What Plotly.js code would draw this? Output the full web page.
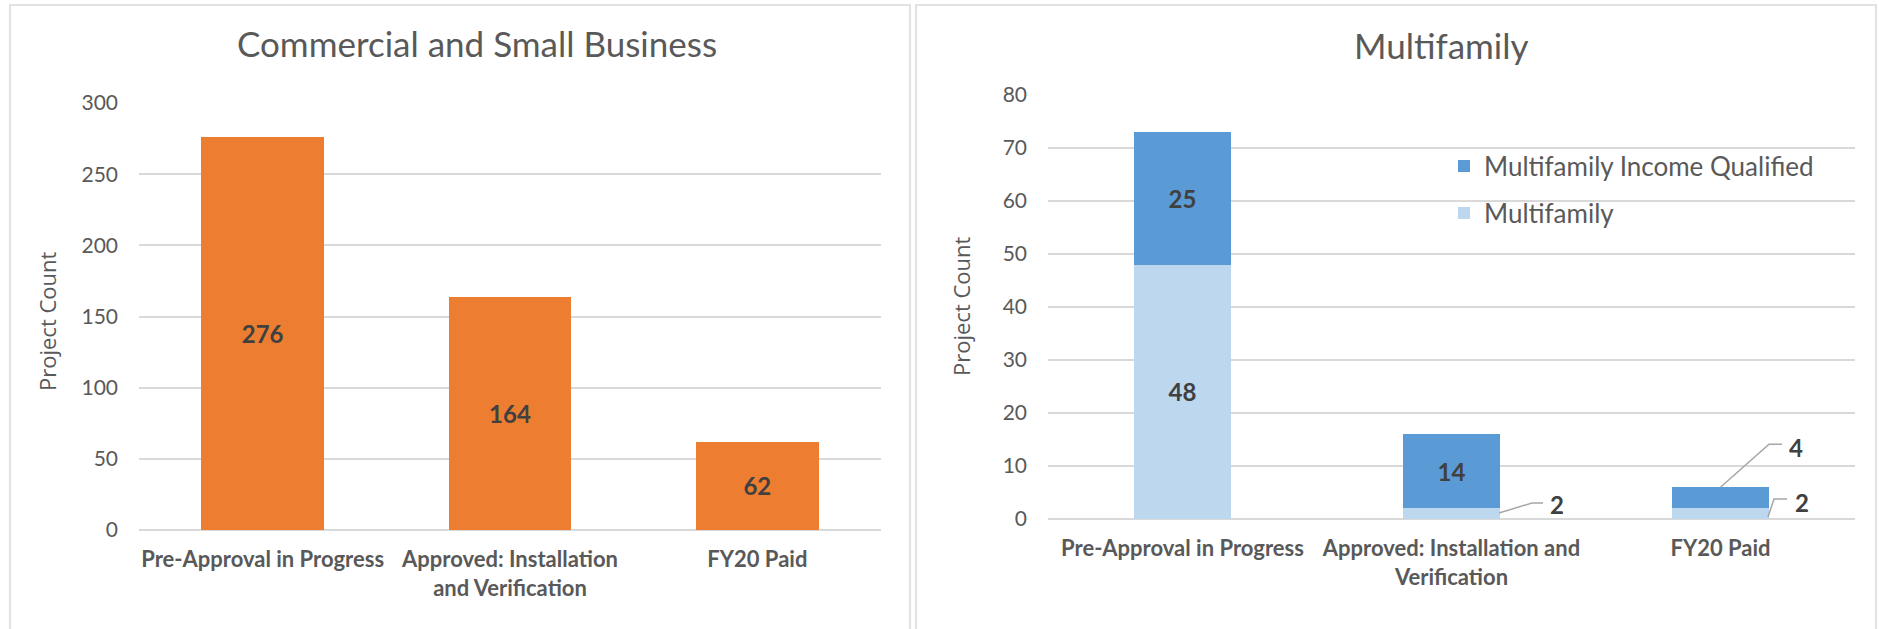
<!DOCTYPE html>
<html><head><meta charset="utf-8">
<script src="https://cdn.plot.ly/plotly-3.0.1.min.js"></script>
<style>html,body{margin:0;padding:0;background:#fff}#chart{width:1879px;height:629px}</style>
</head><body><div id="chart"></div>
<script>
// ---- data ----
const commCategories = ['Pre-Approval in Progress', 'Approved: Installation<br>and Verification', 'FY20 Paid'];
const commValues = [276, 164, 62];
const mfCategories = ['Pre-Approval in Progress', 'Approved: Installation and<br>Verification', 'FY20 Paid'];
const mfBase = [48, 2, 2];                 // Multifamily
const mfIncomeQualified = [25, 14, 4];     // Multifamily Income Qualified
const commTickVals = [0, 50, 100, 150, 200, 250, 300];
const mfTickVals = [0, 10, 20, 30, 40, 50, 60, 70, 80];
const seriesNames = ['Multifamily', 'Multifamily Income Qualified'];
const chartTitles = ['Commercial and Small Business', 'Multifamily'];
const yTitle = 'Project Count';

// ---- helpers ----
const W = 1879, H = 629;
const px = x => x / W;
const py = y => 1 - y / H;
const TXT = '#595959', LBL = '#404040';
const FONT = 'Lato, "Open Sans", sans-serif';
const MIN_INSIDE = 5;
const inside = v => v >= MIN_INSIDE ? String(v) : '';

const traces = [
  {
    type: 'bar', x: commCategories, y: commValues, xaxis: 'x', yaxis: 'y',
    marker: {color: '#ED7D31'}, width: 0.497, showlegend: false,
    text: commValues.map(String), textposition: 'inside', insidetextanchor: 'middle',
    textangle: 0, constraintext: 'none',
    textfont: {family: FONT, size: 24, color: LBL, weight: 700}, hoverinfo: 'x+y'
  },
  {
    type: 'bar', name: seriesNames[0], x: mfCategories, y: mfBase, xaxis: 'x2', yaxis: 'y2',
    marker: {color: '#BDD7EE'}, width: 0.357, legend: 'legend2',
    text: mfBase.map(inside), textposition: 'inside', insidetextanchor: 'middle',
    textangle: 0, constraintext: 'none',
    textfont: {family: FONT, size: 24, color: LBL, weight: 700}
  },
  {
    type: 'bar', name: seriesNames[1], x: mfCategories, y: mfIncomeQualified, xaxis: 'x2', yaxis: 'y2',
    marker: {color: '#5B9BD5'}, width: 0.357, legend: 'legend',
    text: mfIncomeQualified.map(inside), textposition: 'inside', insidetextanchor: 'middle',
    textangle: 0, constraintext: 'none',
    textfont: {family: FONT, size: 24, color: LBL, weight: 700}
  }
];

// callouts for small segments (pixel offsets from the segment anchor)
const callouts = [
  {cat: 1, base: 0, val: mfBase[1], where: 'mid', dx: 105.5, dy: 8.7, path: 'M 47.5 0.7 L 80.5 10.7 L 91.5 10.7'},
  {cat: 2, base: mfBase[2], val: mfIncomeQualified[2], where: 'top', dx: 75.5, dy: 40, path: 'M 0 0 L 48.5 43 L 61.5 43'},
  {cat: 2, base: 0, val: mfBase[2], where: 'mid', dx: 81.5, dy: 10.7, path: 'M 47.5 -3.3 L 53.5 14.7 L 66.5 14.7'}
];

const annotations = [
  {text: chartTitles[0], xref: 'paper', yref: 'paper', x: px(477), y: py(43), showarrow: false,
   xanchor: 'center', yanchor: 'middle', font: {family: FONT, size: 35, color: TXT}},
  {text: chartTitles[1], xref: 'paper', yref: 'paper', x: px(1441), y: py(45), showarrow: false,
   xanchor: 'center', yanchor: 'middle', font: {family: FONT, size: 35, color: TXT}},
  {text: yTitle, xref: 'paper', yref: 'paper', x: px(47), y: py(321), showarrow: false, textangle: -90,
   xanchor: 'center', yanchor: 'middle', font: {family: '"Open Sans", sans-serif', size: 22, color: TXT}},
  {text: yTitle, xref: 'paper', yref: 'paper', x: px(961), y: py(306), showarrow: false, textangle: -90,
   xanchor: 'center', yanchor: 'middle', font: {family: '"Open Sans", sans-serif', size: 22, color: TXT}}
];
const shapes = [
  {type: 'rect', xref: 'paper', yref: 'paper', x0: px(10), x1: px(910), y0: -0.2, y1: py(5),
   line: {color: '#d9d9d9', width: 1.5}, layer: 'below'},
  {type: 'rect', xref: 'paper', yref: 'paper', x0: px(916), x1: px(1876), y0: -0.2, y1: py(5),
   line: {color: '#d9d9d9', width: 1.5}, layer: 'below'}
];
callouts.forEach(c => {
  const yAnchor = c.where === 'mid' ? c.base + c.val / 2 : c.base + c.val;
  annotations.push({text: String(c.val), xref: 'x2', yref: 'y2', x: c.cat, y: yAnchor,
    xshift: c.dx, yshift: c.dy, showarrow: false, xanchor: 'center', yanchor: 'middle',
    font: {family: FONT, size: 24, color: LBL, weight: 700}});
  shapes.push({type: 'path', xref: 'x2', yref: 'y2', xsizemode: 'pixel', ysizemode: 'pixel',
    xanchor: c.cat, yanchor: yAnchor, path: c.path, line: {color: '#a6a6a6', width: 1.5}});
});

const xCommon = {type: 'category', tickangle: 0, showgrid: false, showline: false, zeroline: false,
  ticks: '', ticklabelstandoff: 14, fixedrange: true,
  tickfont: {family: FONT, size: 22, color: TXT, weight: 700}};
const yCommon = {showgrid: true, gridcolor: '#d9d9d9', gridwidth: 2, zeroline: true,
  zerolinecolor: '#d9d9d9', zerolinewidth: 2, showline: false, ticks: '', fixedrange: true,
  ticklabelstandoff: 20, tickfont: {family: FONT, size: 21, color: TXT}};

const legendCommon = {xref: 'paper', yref: 'paper', xanchor: 'left', yanchor: 'middle',
  bgcolor: 'rgba(0,0,0,0)', borderwidth: 0, font: {family: FONT, size: 26, color: TXT}};

const layout = {
  width: W, height: H, margin: {l: 0, r: 0, t: 0, b: 0},
  paper_bgcolor: '#ffffff', plot_bgcolor: 'rgba(0,0,0,0)',
  barmode: 'stack',
  xaxis: Object.assign({}, xCommon, {domain: [px(139), px(881)], anchor: 'y'}),
  yaxis: Object.assign({}, yCommon, {domain: [py(530), py(103)], anchor: 'x', range: [0, 300], tickvals: commTickVals}),
  xaxis2: Object.assign({}, xCommon, {domain: [px(1048), px(1855)], anchor: 'y2'}),
  yaxis2: Object.assign({}, yCommon, {domain: [py(519), py(95)], anchor: 'x2', range: [0, 80], tickvals: mfTickVals}),
  legend: Object.assign({}, legendCommon, {x: px(1444), y: py(166)}),
  legend2: Object.assign({}, legendCommon, {x: px(1444), y: py(213)}),
  annotations: annotations,
  shapes: shapes
};

Plotly.newPlot('chart', traces, layout, {displayModeBar: false, staticPlot: true});
</script>
</body></html>
